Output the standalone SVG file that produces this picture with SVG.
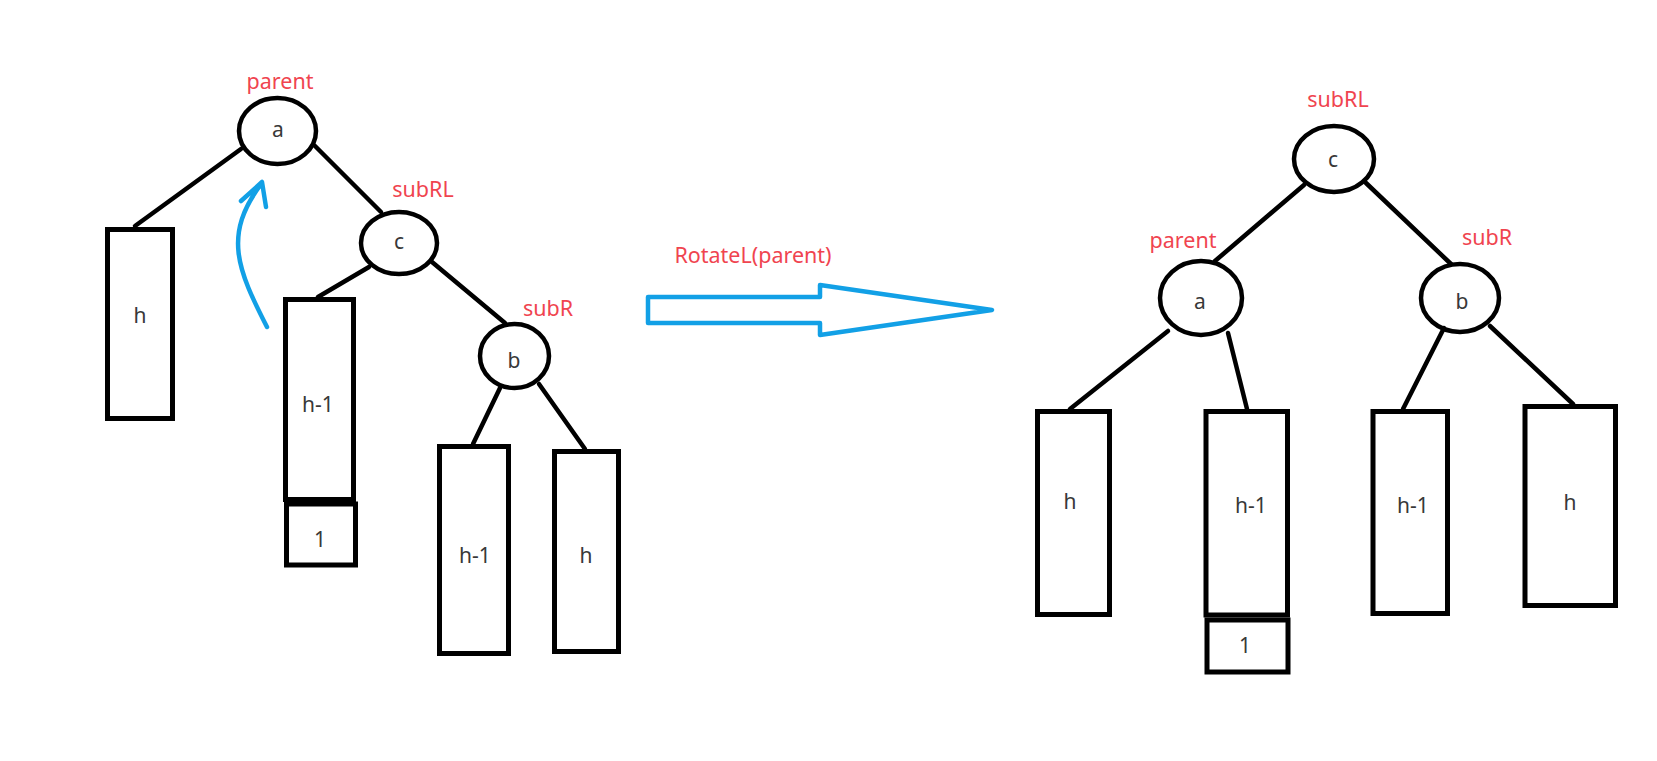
<svg xmlns="http://www.w3.org/2000/svg" width="1657" height="761" viewBox="0 0 1657 761">
<style>
.bg{fill:#ffffff}
.box{fill:none;stroke:#000;stroke-width:5}
.node{fill:none;stroke:#000;stroke-width:4.5}
.edge{stroke:#000;stroke-width:4.5;fill:none;stroke-linecap:round}
.t{font-family:"Noto Sans","Open Sans","Liberation Sans",sans-serif;font-size:21px;fill:#383838;text-anchor:middle}
.lbl{font-family:"Noto Sans","Open Sans","Liberation Sans",sans-serif;font-size:21.5px;fill:#F0444F;text-anchor:middle}
.blue{fill:none;stroke:#12A0E6;stroke-width:4.5;stroke-linecap:round;stroke-linejoin:round}
</style>
<rect class="bg" x="0" y="0" width="1657" height="761"/>
<g id="connectors">
<line class="edge" x1="241" y1="149" x2="135" y2="226"/>
<line class="edge" x1="315" y1="146" x2="381" y2="212"/>
<line class="edge" x1="369" y1="267" x2="318" y2="297"/>
<line class="edge" x1="432" y1="262" x2="505" y2="323"/>
<line class="edge" x1="500" y1="388" x2="473" y2="444"/>
<line class="edge" x1="539" y1="384" x2="585" y2="449"/>
<line class="edge" x1="1304" y1="185" x2="1215" y2="261"/>
<line class="edge" x1="1366" y1="183" x2="1451" y2="264"/>
<line class="edge" x1="1168" y1="331" x2="1070" y2="409"/>
<line class="edge" x1="1228" y1="333" x2="1247" y2="409"/>
<line class="edge" x1="1444" y1="328" x2="1403" y2="409"/>
<line class="edge" x1="1490" y1="326" x2="1573" y2="404"/>
<path id="rotate-hint" class="blue" d="M267,327 C238,270 222,235 262,183 M241,201 L262,182 L266,207"/>
<polygon id="big-arrow" class="blue" points="648,297 820,297 820,285 992,310 820,335 820,323 648,323"/>
</g>
<g id="left-a"><ellipse class="node" cx="277.5" cy="131" rx="38.5" ry="33"/><text class="t" x="278" y="137">a</text><text class="lbl" x="280" y="89">parent</text></g>
<g id="left-c"><ellipse class="node" cx="399" cy="243" rx="38" ry="31"/><text class="t" x="399" y="249">c</text><text class="lbl" x="423" y="197">subRL</text></g>
<g id="left-b"><ellipse class="node" cx="514.5" cy="356" rx="34.5" ry="32"/><text class="t" x="514" y="368">b</text><text class="lbl" x="548" y="316">subR</text></g>
<g id="left-h"><rect class="box" x="107.5" y="229.5" width="65" height="189"/><text class="t" x="140" y="323">h</text></g>
<g id="left-h1"><rect class="box" x="285.5" y="299.5" width="68" height="200"/><text class="t" x="318" y="412">h-1</text></g>
<g id="left-one"><rect class="box" x="286.5" y="504" width="69" height="61"/><text class="t" x="320" y="547">1</text></g>
<g id="left-b-h1"><rect class="box" x="439.5" y="446.5" width="69" height="207"/><text class="t" x="475" y="563">h-1</text></g>
<g id="left-b-h"><rect class="box" x="554.5" y="451.5" width="64" height="200"/><text class="t" x="586" y="563">h</text></g>
<g id="rotate-label"><text class="lbl" x="753" y="263">RotateL(parent)</text></g>
<g id="right-c"><ellipse class="node" cx="1334" cy="159" rx="40" ry="33"/><text class="t" x="1333" y="167">c</text><text class="lbl" x="1338" y="107">subRL</text></g>
<g id="right-a"><ellipse class="node" cx="1201" cy="298" rx="41" ry="37"/><text class="t" x="1200" y="309">a</text><text class="lbl" x="1183" y="248">parent</text></g>
<g id="right-b"><ellipse class="node" cx="1460" cy="298" rx="39" ry="34"/><text class="t" x="1462" y="309">b</text><text class="lbl" x="1487" y="245">subR</text></g>
<g id="right-h"><rect class="box" x="1037.5" y="411.5" width="72" height="203"/><text class="t" x="1070" y="509">h</text></g>
<g id="right-h1"><rect class="box" x="1206" y="411.5" width="81.5" height="203.5"/><text class="t" x="1251" y="513">h-1</text></g>
<g id="right-one"><rect class="box" x="1207" y="620" width="81" height="52"/><text class="t" x="1245" y="653">1</text></g>
<g id="right-b-h1"><rect class="box" x="1373" y="411.5" width="74.5" height="202"/><text class="t" x="1413" y="513">h-1</text></g>
<g id="right-b-h"><rect class="box" x="1525" y="406.5" width="90.5" height="199"/><text class="t" x="1570" y="510">h</text></g>
</svg>
